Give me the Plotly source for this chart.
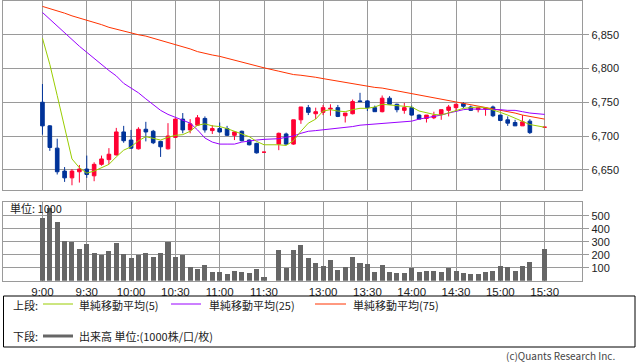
import plotly.graph_objects as go

# ---------------- data ----------------
times = ["9:00", "9:05", "9:10", "9:15", "9:20", "9:25", "9:30", "9:35", "9:40", "9:45",
         "9:50", "9:55", "10:00", "10:05", "10:10", "10:15", "10:20", "10:25", "10:30", "10:35",
         "10:40", "10:45", "10:50", "10:55", "11:00", "11:05", "11:10", "11:15", "11:20", "11:25",
         "11:30", "", "12:30", "12:35", "12:40", "12:45", "12:50", "12:55", "13:00", "13:05",
         "13:10", "13:15", "13:20", "13:25", "13:30", "13:35", "13:40", "13:45", "13:50", "13:55",
         "14:00", "14:05", "14:10", "14:15", "14:20", "14:25", "14:30", "14:35", "14:40", "14:45",
         "14:50", "14:55", "15:00", "15:05", "15:10", "15:15", "15:20", "15:25", "15:30"]

opens = [6750, 6715, 6682, 6648, 6638, 6647, 6651, 6641, 6658, 6665,
         6672, 6706, 6694, 6681, 6710, 6707, 6692, 6681, 6698, 6725,
         6709, 6716, 6726, 6708, 6711, 6711, 6701, 6707, 6694, 6689,
         6676, None, 6688, 6703, 6688, 6724, 6742, 6733, 6735, 6740,
         6742, 6730, 6733, 6752, 6752, 6742, 6736, 6756, 6747, 6738,
         6742, 6731, 6726, 6727, 6732, 6738, 6742, 6748, 6743, 6739,
         6740, 6743, 6731, 6724, 6720, 6715, 6722, None, 6713]
highs = [6777, 6716, 6696, 6654, 6651, 6657, 6671, 6661, 6671, 6682,
         6712, 6715, 6709, 6713, 6721, 6709, 6693, 6719, 6726, 6734,
         6725, 6731, 6729, 6716, 6720, 6715, 6707, 6708, 6695, 6690,
         6676, None, 6705, 6705, 6724, 6743, 6746, 6742, 6746, 6747,
         6746, 6734, 6754, 6764, 6753, 6745, 6760, 6759, 6748, 6749,
         6745, 6732, 6731, 6736, 6739, 6746, 6748, 6750, 6745, 6742,
         6741, 6745, 6731, 6729, 6724, 6731, 6725, None, 6713]
lows = [6702, 6678, 6643, 6632, 6627, 6631, 6638, 6633, 6656, 6658,
        6671, 6690, 6681, 6680, 6692, 6688, 6669, 6680, 6697, 6704,
        6704, 6715, 6705, 6703, 6705, 6700, 6694, 6692, 6686, 6674,
        6676, None, 6679, 6687, 6687, 6718, 6731, 6725, 6731, 6730,
        6728, 6720, 6732, 6751, 6737, 6736, 6735, 6747, 6735, 6733,
        6730, 6725, 6720, 6725, 6724, 6729, 6737, 6741, 6737, 6735,
        6730, 6728, 6722, 6715, 6715, 6715, 6703, None, 6713]
closes = [6715, 6683, 6647, 6638, 6648, 6651, 6643, 6658, 6666, 6673,
          6706, 6693, 6682, 6710, 6706, 6690, 6684, 6700, 6725, 6709,
          6718, 6727, 6709, 6711, 6706, 6701, 6706, 6693, 6687, 6675,
          6676, None, 6704, 6688, 6724, 6743, 6735, 6736, 6742, 6741,
          6729, 6734, 6751, 6751, 6742, 6736, 6756, 6747, 6739, 6742,
          6731, 6725, 6731, 6730, 6739, 6743, 6747, 6744, 6738, 6742,
          6741, 6730, 6723, 6719, 6715, 6721, 6705, None, 6713]

ma5 = [6845, 6806, 6760, 6712, 6666, 6653, 6645, 6648, 6653, 6658,
       6669, 6679, 6684, 6693, 6699, 6696, 6694, 6698, 6701, 6702,
       6707, 6716, 6718, 6715, 6714, 6711, 6707, 6703, 6699, 6692,
       6687, None, 6687, 6686, 6693, 6707, 6719, 6725, 6737, 6739,
       6737, 6736, 6739, 6741, 6741, 6743, 6747, 6746, 6744, 6744,
       6743, 6737, 6734, 6732, 6731, 6734, 6738, 6741, 6742, 6743,
       6742, 6739, 6735, 6731, 6726, 6722, 6717, None, 6713]
ma25 = [6883, 6873, 6862, 6852, 6843, 6833, 6824, 6815, 6805, 6797,
        6789, 6778, 6771, 6764, 6755, 6746, 6738, 6732, 6728, 6724,
        6719, 6709, 6697, 6691, 6688, 6688, 6688, 6691, 6693, 6694,
        6695, None, 6696, 6698, 6700, 6704, 6707, 6708, 6709, 6711,
        6712, 6713, 6714, 6716, 6717, 6717, 6718, 6719, 6720, 6721,
        6722, 6725, 6727, 6728, 6731, 6734, 6737, 6739, 6740, 6740,
        6740, 6739, 6739, 6738, 6738, 6736, 6734, None, 6732]
ma75 = [6892, 6889, 6886, 6882, 6878, 6875, 6871, 6868, 6865, 6861,
        6858, 6855, 6853, 6850, 6848, 6845, 6841, 6838, 6835, 6832,
        6829, 6825, 6822, 6820, 6818, 6815, 6813, 6810, 6807, 6804,
        6801, None, 6796, 6793, 6791, 6790, 6789, 6787, 6785, 6783,
        6781, 6779, 6777, 6776, 6774, 6772, 6771, 6769, 6767, 6765,
        6763, 6761, 6759, 6757, 6755, 6752, 6750, 6748, 6746, 6744,
        6742, 6740, 6738, 6736, 6734, 6731, 6729, None, 6725]

volume = [485, 560, 454, 308, 297, 246, 282, 213, 197, 228,
          292, 205, 177, 197, 213, 185, 213, 297, 185, 197,
          108, 92, 123, 69, 69, 51, 74, 67, 62, 92,
          31, None, 236, 100, 236, 274, 177, 138, 113, 159,
          82, 105, 182, 136, 128, 67, 121, 67, 59, 59,
          95, 67, 74, 74, 67, 95, 74, 59, 51, 51,
          67, 74, 113, 105, 74, 113, 144, None, 244]

tick_labels = ["9:00", "9:30", "10:00", "10:30", "11:00", "11:30",
               "13:00", "13:30", "14:00", "14:30", "15:00", "15:30"]
price_ticks = [6650, 6700, 6750, 6800, 6850]
vol_ticks = [100, 200, 300, 400, 500]

# ---------------- styling ----------------
W, H = 638, 362
RED = "#ff0033"
BLUE = "#003399"
C_MA5 = "#99cc00"
C_MA25 = "#9900ff"
C_MA75 = "#ff3300"
GRID = "#9a9a9a"
TXT = "#222222"
FONT = "Noto Sans CJK JP, Noto Sans, sans-serif"
TICKFONT = "Liberation Sans, Arial, sans-serif"


def px(x):
    return x / W


def py(y):
    return 1 - y / H


keep = [i for i in range(len(times)) if closes[i] is not None]
tick_pos = [times.index(t) for t in tick_labels]


def pick(arr):
    return [arr[i] for i in keep]


fig = go.Figure()

fig.add_trace(go.Candlestick(
    x=keep, open=pick(opens), high=pick(highs), low=pick(lows), close=pick(closes),
    increasing=dict(line=dict(color=RED, width=1), fillcolor=RED),
    decreasing=dict(line=dict(color=BLUE, width=1), fillcolor=BLUE),
    whiskerwidth=0, showlegend=False, hoverinfo="skip", xaxis="x", yaxis="y"))

for arr, col in [(ma75, C_MA75), (ma25, C_MA25), (ma5, C_MA5)]:
    fig.add_trace(go.Scatter(x=keep, y=pick(arr), mode="lines",
                             line=dict(color=col, width=1), showlegend=False,
                             hoverinfo="skip", xaxis="x", yaxis="y"))

fig.add_trace(go.Bar(x=keep, y=pick(volume), width=0.68,
                     marker=dict(color="#666666", line=dict(width=0)),
                     showlegend=False, hoverinfo="skip", xaxis="x2", yaxis="y2"))

xdom = [px(3.3), px(582.3)]
xr = [-5.3, 73.1]
common_x = dict(domain=xdom, range=xr, tickvals=tick_pos, showgrid=True,
                gridcolor=GRID, gridwidth=1, zeroline=False, showline=True,
                linecolor=GRID, linewidth=1, mirror=True, fixedrange=True)
common_y = dict(side="right", showgrid=True, gridcolor=GRID, gridwidth=1,
                zeroline=False, showline=True, linecolor=GRID, linewidth=1,
                mirror=True, ticks="outside", ticklen=6, tickcolor=GRID,
                tickfont=dict(size=11, color=TXT, family=TICKFONT), fixedrange=True)

fig.update_layout(
    width=W, height=H, autosize=False,
    margin=dict(l=0, r=0, t=0, b=0),
    paper_bgcolor="white", plot_bgcolor="white",
    font=dict(family=FONT, size=11, color=TXT),
    bargap=0,
    xaxis=dict(**common_x, anchor="y", showticklabels=False, ticks="",
               rangeslider=dict(visible=False)),
    yaxis=dict(**common_y, domain=[py(190), py(1)], range=[6620, 6900],
               tickvals=price_ticks, tickformat=",d", anchor="x"),
    xaxis2=dict(**common_x, anchor="y2", ticktext=tick_labels, ticks="",
                showticklabels=True, tickfont=dict(size=11.5, color=TXT, family=TICKFONT),
                rangeslider=dict(visible=False)),
    yaxis2=dict(**common_y, domain=[py(280.7), py(201.7)], range=[0, 608],
                tickvals=vol_ticks, anchor="x2"),
)

annotations = [
    dict(text="単位: 1000", x=px(8), y=py(208.5), xanchor="left", yanchor="middle",
         font=dict(size=11, color=TXT)),
    dict(text="上段:", x=px(11), y=py(304.5), xanchor="left", yanchor="middle"),
    dict(text="単純移動平均(5)", x=px(77), y=py(304.5), xanchor="left", yanchor="middle"),
    dict(text="単純移動平均(25)", x=px(207), y=py(304.5), xanchor="left", yanchor="middle"),
    dict(text="単純移動平均(75)", x=px(351), y=py(304.5), xanchor="left", yanchor="middle"),
    dict(text="下段:", x=px(11), y=py(336), xanchor="left", yanchor="middle"),
    dict(text="出来高 単位:(1000株/口/枚)", x=px(77), y=py(336), xanchor="left", yanchor="middle"),
    dict(text="(c)Quants Research Inc.", x=px(617), y=py(355), xanchor="right",
         yanchor="middle", font=dict(size=10, color="#444444")),
]
for a in annotations:
    a.update(xref="paper", yref="paper", showarrow=False)
    a.setdefault("font", dict(size=11, color=TXT))
fig.update_layout(annotations=annotations)

shapes = [
    dict(type="rect", x0=px(3.5), x1=px(635), y0=py(296), y1=py(347),
         line=dict(color="#000000", width=1)),
    dict(type="line", x0=px(43), x1=px(73), y0=py(304), y1=py(304),
         line=dict(color=C_MA5, width=1)),
    dict(type="line", x0=px(171), x1=px(201), y0=py(304), y1=py(304),
         line=dict(color=C_MA25, width=1)),
    dict(type="line", x0=px(315), x1=px(346), y0=py(304), y1=py(304),
         line=dict(color=C_MA75, width=1)),
    dict(type="line", x0=px(43), x1=px(73), y0=py(336), y1=py(336),
         line=dict(color="#666666", width=3)),
]
for s in shapes:
    s.update(xref="paper", yref="paper")
fig.update_layout(shapes=shapes)

fig.write_html("out.html",
               config={"displayModeBar": False, "staticPlot": True},
               post_script="document.body.style.margin='0';document.body.style.overflow='hidden';")
